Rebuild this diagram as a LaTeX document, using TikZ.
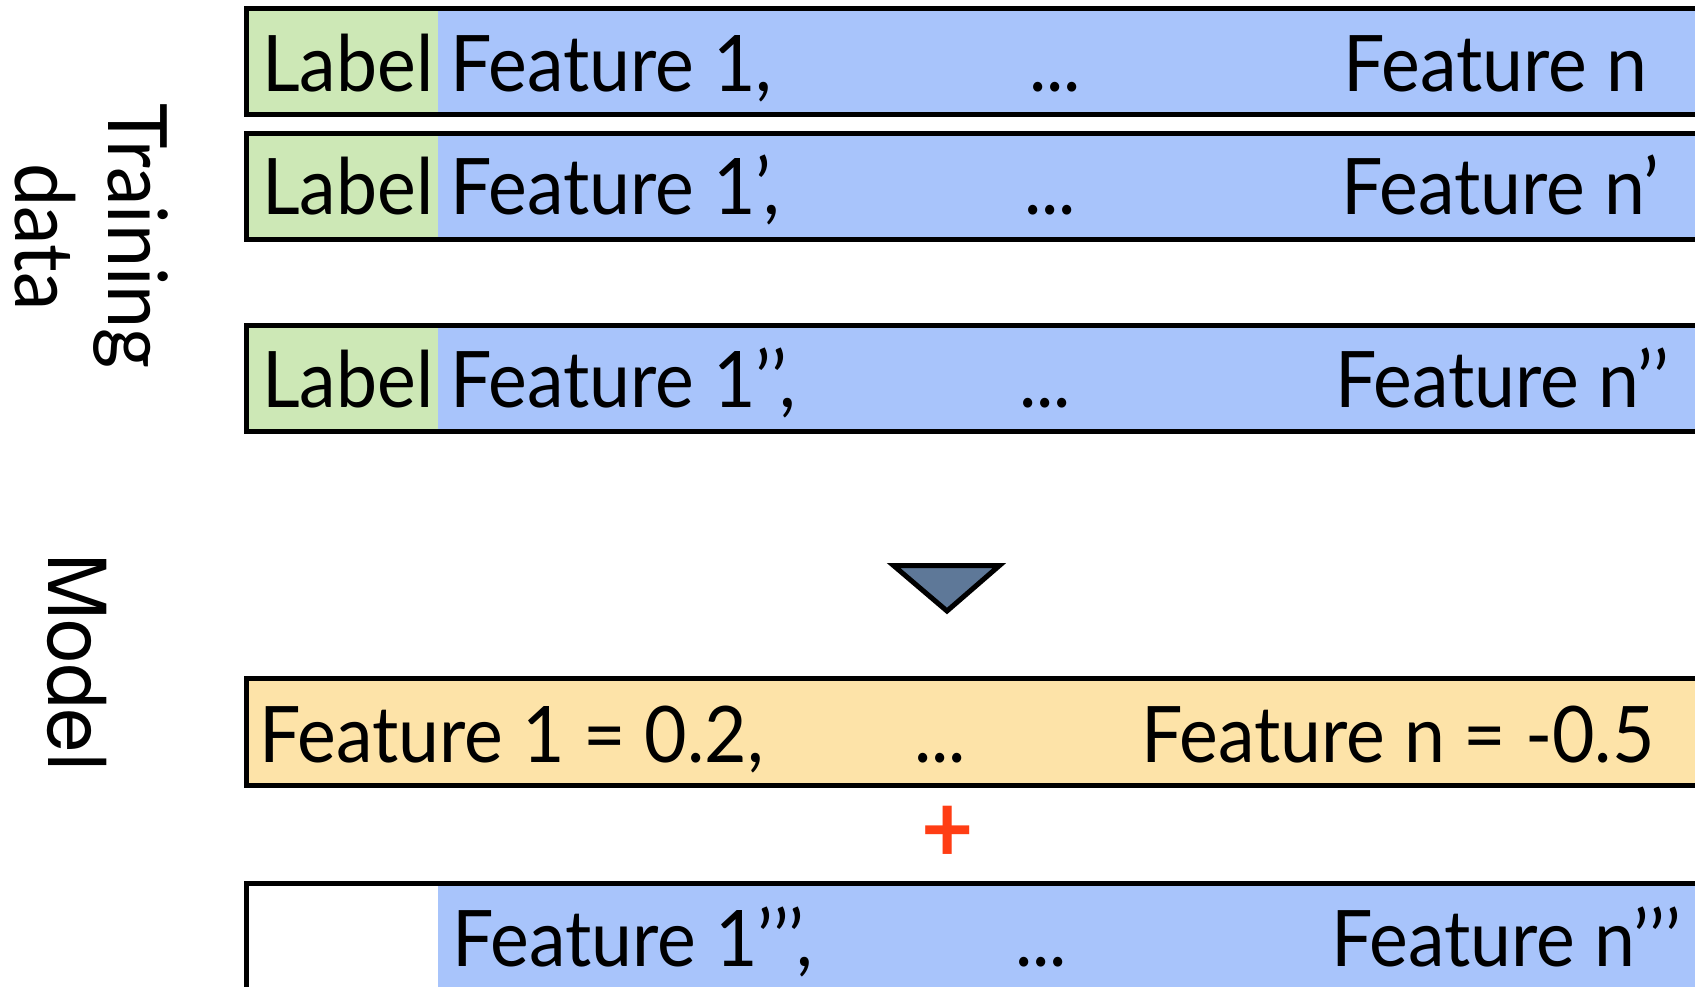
\documentclass[tikz,border=0pt]{standalone}
\usepackage{fontspec}
\setmainfont{Lato}
\newfontfamily\gill[FakeStretch=0.94]{Lato}
\newfontfamily\helv{TeX Gyre Heros}
\definecolor{lblgreen}{HTML}{CDE8B6}
\definecolor{featblue}{HTML}{A8C4FB}
\definecolor{modelorange}{HTML}{FDE3A8}
\definecolor{arrowgray}{HTML}{5E7898}
\definecolor{plusred}{HTML}{FF3D14}
\begin{document}
\begin{tikzpicture}[x=1pt,y=-1pt,
  frame/.style={draw=black, line width=5pt, line join=miter},
  txt/.style={anchor=base west, inner sep=0pt, font=\gill\fontsize{78}{80}\selectfont},
  dotstxt/.style={anchor=base, inner sep=0pt, font=\gill\fontsize{78}{80}\selectfont},
  sidetxt/.style={anchor=base, inner sep=0pt, rotate=-90, font=\gill\fontsize{82}{84}\selectfont},
  modeltxt/.style={anchor=base, inner sep=0pt, rotate=-90, font=\helv\fontsize{80}{82}\selectfont}]
\useasboundingbox (0,0) rectangle (1695,987);
\clip (0,0) rectangle (1695,987);

% row 1
\fill[lblgreen] (246,9) rectangle (438,115);
\fill[featblue] (438,9) rectangle (1710,115);
\draw[frame] (1710,9) -- (246,9) -- (246,115) -- (1710,115);
% row 2
\fill[lblgreen] (246,133.5) rectangle (438,239.5);
\fill[featblue] (438,133.5) rectangle (1710,239.5);
\draw[frame] (1710,133.5) -- (246,133.5) -- (246,239.5) -- (1710,239.5);
% row 3
\fill[lblgreen] (246,325.5) rectangle (438,431.5);
\fill[featblue] (438,325.5) rectangle (1710,431.5);
\draw[frame] (1710,325.5) -- (246,325.5) -- (246,431.5) -- (1710,431.5);
% model row
\fill[modelorange] (246,678.5) rectangle (1710,785);
\draw[frame] (1710,678.5) -- (246,678.5) -- (246,785) -- (1710,785);
% new example row
\fill[white] (246,883.5) rectangle (438,1000);
\fill[featblue] (438,883.5) rectangle (1710,1000);
\draw[frame] (1710,883.5) -- (246,883.5) -- (246,1000);

% texts row 1
\node[txt] (l1) at (262,92) {Label};
\node[txt] (f11) at (450,92) {Feature 1,};
\node[dotstxt] (d1) at (1055,92) {...};
\node[txt] (fn1) at (1343,92) {Feature n};
% row 2
\node[txt] (l2) at (262,215) {Label};
\node[txt] (f12) at (450,215) {Feature 1’,};
\node[dotstxt] (d2) at (1050,215) {...};
\node[txt] (fn2) at (1341,215) {Feature n’};
% row 3
\node[txt] (l3) at (262,407) {Label};
\node[txt] (f13) at (450,407) {Feature 1’’,};
\node[dotstxt] (d3) at (1045,407) {...};
\node[txt] (fn3) at (1335,407) {Feature n’’};
% model
\node[txt] (m1) at (259,762) {Feature 1 = 0.2,};
\node[dotstxt] (md) at (940,762) {...};
\node[txt] (mn) at (1141,762) {Feature n = -0.5};
% plus
\node[inner sep=0pt, text=plusred, font=\gill\bfseries\fontsize{96}{98}\selectfont] (plus) at (947.5,834.5) {+};
% new example
\node[txt] (f14) at (452,966) {Feature 1’’’,};
\node[dotstxt] (d4) at (1041,966) {...};
\node[txt] (fn4) at (1331,966) {Feature n’’’};

% side labels
\node[sidetxt] (train) at (108,236) {Training};
\node[sidetxt] (data) at (16,237) {data};
\node[modeltxt] (model) at (48,662) {Model};

% down arrow
\draw[line width=5pt, line join=miter, fill=arrowgray] (893.5,565.5) -- (999.5,565.5) -- (947,611) -- cycle;
\end{tikzpicture}
\end{document}
